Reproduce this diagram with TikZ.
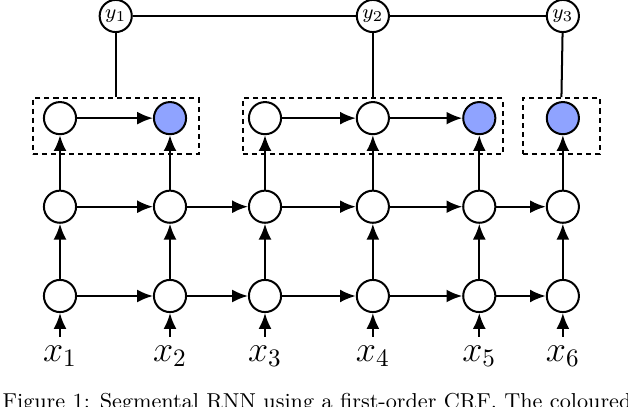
\documentclass[tikz,border=0pt]{standalone}
\usepackage{amsmath}
\usepackage{tikz}
\usetikzlibrary{arrows.meta,calc}
\definecolor{segblue}{rgb}{0.56,0.64,1}
\tikzset{
  >={Latex[length=2.2mm,width=1.8mm]},
  unit/.style={circle,draw,thick,fill=white,minimum size=0.45cm,inner sep=0pt},
  seg/.style={unit,fill=segblue},
  lab/.style={circle,draw,thick,fill=white,minimum size=0.45cm,inner sep=0pt,font=\footnotesize},
  segbox/.style={draw,thick,dash pattern=on 2pt off 1.6pt,inner sep=0pt},
}
\tikzstyle{conn}=[thick,->]
\begin{document}
\begin{tikzpicture}
    \useasboundingbox (0,0) rectangle (8.792,5.684);
    % grid of hidden units
    \foreach \i/\x in {1/0.84,2/2.38,3/3.71,4/5.22,5/6.71,6/7.88}{
      \node (x\i) at (\x,0.70) {\Large$x_{\i}$};
      \node[unit] (l\i) at (\x,1.54) {};
      \node[unit] (m\i) at (\x,2.79) {};
    }
    % segment layer
    \node[unit] (t1) at (0.84,4.03) {};
    \node[seg] (t2) at (2.38,4.03) {};
    \node[unit] (t3) at (3.71,4.03) {};
    \node[unit] (t4) at (5.22,4.03) {};
    \node[seg] (t5) at (6.71,4.03) {};
    \node[seg] (t6) at (7.88,4.03) {};
    \node[segbox,minimum width=2.32cm,minimum height=0.78cm] (seg1) at (1.62,3.92) {};
    \node[segbox,minimum width=3.64cm,minimum height=0.78cm] (seg2) at (5.22,3.92) {};
    \node[segbox,minimum width=1.08cm,minimum height=0.78cm] (seg3) at (7.86,3.92) {};
    % labels
    \node[lab] (y1) at (1.62,5.46) {$y_1$};
    \node[lab] (y2) at (5.22,5.46) {$y_2$};
    \node[lab] (y3) at (7.88,5.46) {$y_3$};
    \draw[thick] (y1)--(y2)--(y3);
    \draw[thick] (y1)--(seg1.north);
    \draw[thick] (y2)--(seg2.north);
    \draw[thick] (y3)--(seg3.north);
    \foreach \i in {1,...,6}{
      \draw[conn] (x\i)--(l\i);
      \draw[conn] (l\i)--(m\i);
      \draw[conn] (m\i)--(t\i);
    }
    \foreach \i/\j in {1/2,2/3,3/4,4/5,5/6}{
      \draw[conn] (l\i)--(l\j);
      \draw[conn] (m\i)--(m\j);
    }
    \draw[conn] (t1)--(t2);
    \draw[conn] (t3)--(t4);
    \draw[conn] (t4)--(t5);
    \node[anchor=north west,inner sep=0pt,font=\fontsize{8.6}{10}\selectfont] (cap) at (0.03,0.19)
      {Figure 1: Segmental RNN using a first-order CRF. The coloured};
  \end{tikzpicture}
\end{document}
